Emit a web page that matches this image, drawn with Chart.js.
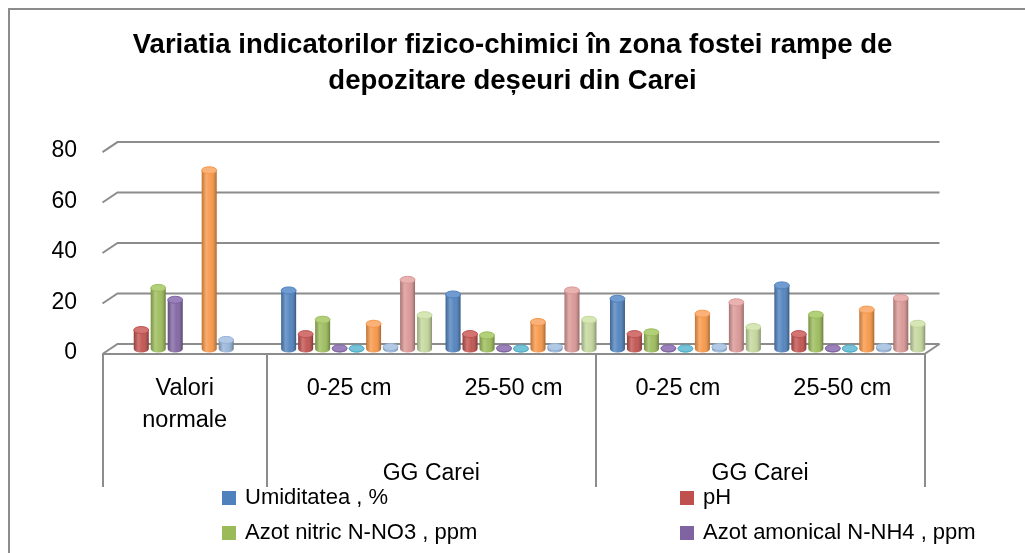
<!DOCTYPE html>
<html lang="ro">
<head>
<meta charset="utf-8">
<title>Variatia indicatorilor fizico-chimici</title>
<script src="https://cdn.jsdelivr.net/npm/chart.js@4/dist/chart.umd.min.js"></script>
<style>
  html, body { margin: 0; padding: 0; background: #fff; overflow: hidden; }
  #cadru { position: relative; width: 1025px; height: 553px; }
  #chenar { position: absolute; left: 8px; top: 8px; width: 1100px; height: 700px;
            border-left: 2px solid #8c8c8c; border-top: 2px solid #8c8c8c; }
  canvas { position: absolute; left: 0; top: 0; }
  .leg { position: absolute; font-family: "Liberation Sans", Arial, sans-serif; font-size: 22px;
         line-height: 24px; color: #000; white-space: nowrap; }
  .leg i { display: inline-block; width: 14px; height: 14px; margin-right: 9px; vertical-align: -1px; }
</style>
</head>
<body>
<div id="cadru">
  <div id="chenar"></div>
  <canvas id="grafic" width="1025" height="553"></canvas>
  <div id="legenda"></div>
</div>
<script>
// ---------- Date ----------
const categorii = [["Valori", "normale"], "0-25 cm", "25-50 cm", "0-25 cm", "25-50 cm"];
const grupuri = ["", "GG Carei", "", "GG Carei", ""]; // eticheta stă între categoriile 2-3 și 4-5
const limiteGrupuri = [-0.5, 0.5, 2.5, 4.5];          // între categorii

const umiditatea    = [null, 23.2, 21.6, 19.9, 25.2];
const ph            = [7.5, 5.9, 5.9, 5.9, 5.9];
const azotNitric    = [24.2, 11.6, 5.4, 6.6, 13.6];
const azotAmoniacal = [19.5, 0.3, 0.3, 0.3, 0.3];
const serie5        = [null, 0.2, 0.2, 0.2, 0.2];
const serie6        = [70.8, 10, 10.7, 14, 15.6];
const serie7        = [3.6, 0.8, 0.8, 0.8, 0.8];
const serie8        = [null, 27.4, 23.2, 18.5, 20.2];
const serie9        = [null, 13.4, 11.6, 8.7, 10];

const numeSerii = [
  "Umiditatea , %", "pH", "Azot nitric N-NO3 , ppm", "Azot amonical N-NH4 , ppm",
  "Seria 5", "Seria 6", "Seria 7", "Seria 8", "Seria 9",
];
const valoriSerii = [umiditatea, ph, azotNitric, azotAmoniacal, serie5, serie6, serie7, serie8, serie9];

// Paleta (Office 2007) și varianta mai deschisă pentru capacul cilindrului
const CULORI = ["#4f81bd", "#c0504d", "#9bbb59", "#8064a2", "#4bacc6", "#f79646", "#95b3d7", "#d99694", "#c3d69b"];
const CULORI_SUS = ["#6f9bd1", "#d27572", "#b2cf7a", "#9a81bb", "#74c3d8", "#fbb27a", "#b2c9e5", "#e8b2b0", "#d6e6b4"];

const FONT = "'Liberation Sans', Arial, sans-serif";
const CULOARE_GRILA = "#8c8c8c";
const DX = 7.5, DY = 5; // jumătate din adâncimea 3D (spate / față)

/** Grila de pe peretele din spate, podeaua și separatoarele de categorii */
const efect3d = {
  id: "efect3d",
  beforeDatasetsDraw(chart) {
    const { ctx, chartArea: a, scales: { x, y, xg } } = chart;
    const y0 = y.getPixelForValue(0);
    ctx.save();
    ctx.strokeStyle = CULOARE_GRILA;
    ctx.lineWidth = 2;

    y.ticks.forEach((t) => {
      const yb = y.getPixelForValue(t.value) - DY;
      ctx.beginPath();
      ctx.moveTo(a.left - DX, yb + 2 * DY);
      ctx.lineTo(a.left + DX, yb);
      ctx.lineTo(a.right + DX, yb);
      ctx.stroke();
    });

    // marginea din față a podelei
    ctx.beginPath();
    ctx.moveTo(a.left - DX, y0 + DY);
    ctx.lineTo(a.right - DX, y0 + DY);
    ctx.lineTo(a.right + DX, y0 - DY);
    ctx.stroke();

    // separatoare verticale sub axa categoriilor
    ctx.beginPath();
    limiteGrupuri.forEach((v) => {
      const px = Math.round(x.getPixelForValue(v) - DX);
      ctx.moveTo(px, y0 + DY);
      ctx.lineTo(px, xg.top + 38);
    });
    ctx.stroke();
    ctx.restore();
  },

  // umbrire de cilindru peste barele desenate de Chart.js
  afterDatasetsDraw(chart) {
    const { ctx } = chart;
    ctx.save();
    chart.data.datasets.forEach((ds, i) => {
      const meta = chart.getDatasetMeta(i);
      meta.data.forEach((bara, j) => {
        if (ds.data[j] == null) return;
        const { x: cx, y: sus, base, width: w } = bara.getProps(["x", "y", "base", "width"], true);
        const r = w / 2, ry = 3.5;

        ctx.fillStyle = CULORI[i];
        ctx.beginPath();
        ctx.ellipse(cx, base, r, ry, 0, 0, Math.PI);
        ctx.fill();

        const g = ctx.createLinearGradient(cx - r, 0, cx + r, 0);
        g.addColorStop(0, "rgba(0,0,0,0.22)");
        g.addColorStop(0.3, "rgba(255,255,255,0.22)");
        g.addColorStop(0.6, "rgba(255,255,255,0.05)");
        g.addColorStop(1, "rgba(0,0,0,0.32)");
        ctx.fillStyle = g;
        ctx.beginPath();
        ctx.rect(cx - r, sus, w, base - sus);
        ctx.ellipse(cx, base, r, ry, 0, 0, Math.PI);
        ctx.fill();

        ctx.fillStyle = CULORI_SUS[i];
        ctx.strokeStyle = CULORI[i];
        ctx.lineWidth = 1;
        ctx.beginPath();
        ctx.ellipse(cx, sus, r, ry, 0, 0, 2 * Math.PI);
        ctx.fill();
        ctx.stroke();
      });
    });
    ctx.restore();
  },
};

new Chart(document.getElementById("grafic"), {
  type: "bar",
  data: {
    labels: categorii,
    datasets: valoriSerii.map((valori, i) => ({
      label: numeSerii[i],
      data: valori,
      backgroundColor: CULORI[i],
      borderWidth: 0,
      xAxisID: "x",
      yAxisID: "y",
      categoryPercentage: 0.93,
      barPercentage: 0.88,
    })),
  },
  options: {
    responsive: false,
    animation: false,
    layout: { padding: { left: 10, right: 10, top: 0, bottom: 0 } },
    plugins: {
      legend: { display: false },
      tooltip: { enabled: false },
      title: {
        display: true,
        text: ["Variatia indicatorilor fizico-chimici în zona fostei rampe de",
               "depozitare deșeuri din Carei"],
        color: "#000",
        font: { family: FONT, size: 27.5, weight: "bold", lineHeight: 1.31 },
        padding: { top: 27, bottom: 48 },
      },
    },
    scales: {
      x: {
        type: "category",
        offset: true,
        grid: { display: false },
        border: { display: false },
        ticks: {
          color: "#000",
          font: { family: FONT, size: 23.5, lineHeight: 1.362 },
          padding: 16,
          labelOffset: -DX,
          maxRotation: 0,
          autoSkip: false,
        },
        afterFit: (s) => { s.height = 100; },
      },
      xg: {
        type: "category",
        position: "bottom",
        labels: grupuri,
        offset: true,
        grid: { display: false },
        border: { display: false },
        ticks: {
          color: "#000",
          font: { family: FONT, size: 23, lineHeight: 1.39 },
          padding: 1,
          labelOffset: 82.2 - DX, // jumătate de categorie spre dreapta
          maxRotation: 0,
          autoSkip: false,
        },
        afterFit: (s) => { s.height = 104; },
      },
      y: {
        min: 0,
        max: 80,
        grid: { display: false },
        border: { display: false },
        ticks: { stepSize: 20, padding: 25, labelOffset: 4, color: "#000", font: { family: FONT, size: 23 } },
        afterFit: (s) => { s.width = 100; },
      },
      yd: {
        position: "right",
        grid: { display: false },
        border: { display: false },
        ticks: { display: false },
        afterFit: (s) => { s.width = 83; },
      },
    },
  },
  plugins: [efect3d],
});

// Legenda (doar primele patru serii sunt vizibile în original)
const pozitiiLegenda = [[222, 485], [680, 485], [222, 520], [680, 520]];
document.getElementById("legenda").innerHTML = pozitiiLegenda.map(([l, t], i) =>
  `<div class="leg" style="left:${l}px;top:${t}px"><i style="background:${CULORI[i]}"></i>${numeSerii[i]}</div>`
).join("");
</script>
</body>
</html>
